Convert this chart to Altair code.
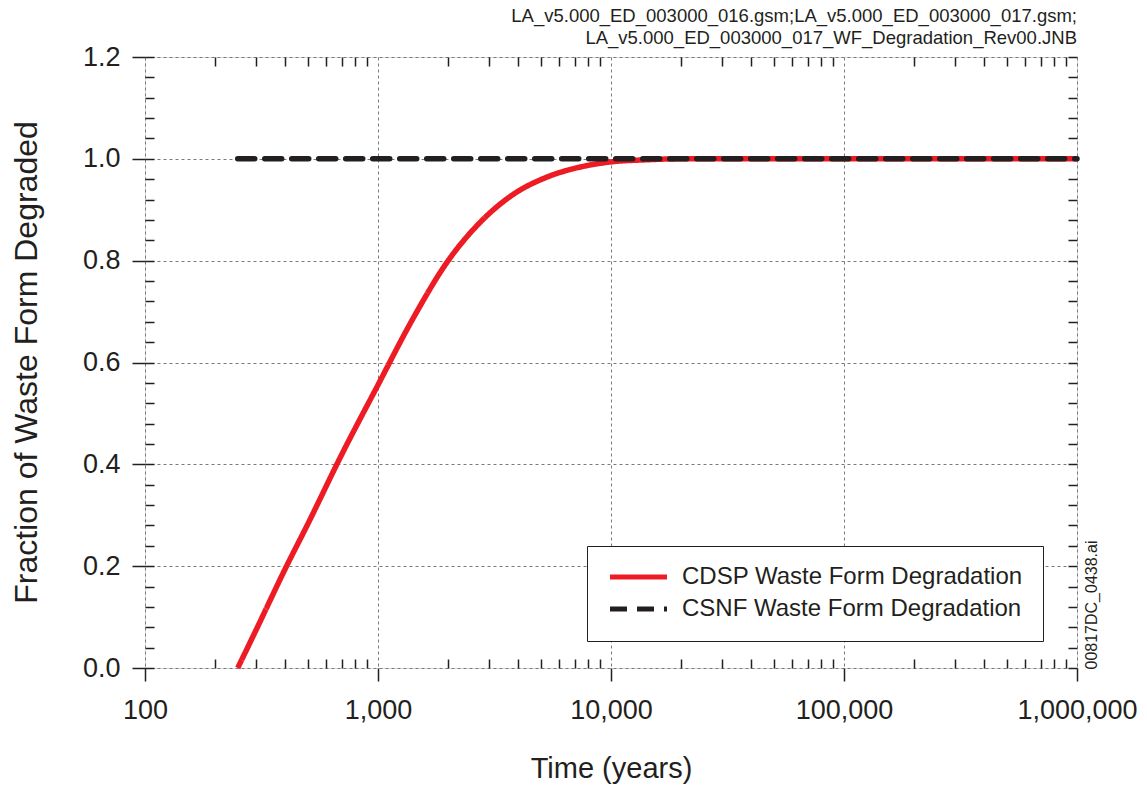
import altair as alt
import pandas as pd

# CDSP waste form degradation curve (fraction degraded vs. time in years)
cdsp_time = [250, 300, 400, 500, 700, 1000, 1400, 2000, 2700, 3800, 5300,
             7400, 10000, 14000, 20000, 1000000]
cdsp_frac = [0.0, 0.075, 0.195, 0.283, 0.42, 0.556, 0.683, 0.80, 0.872,
             0.930, 0.964, 0.984, 0.994, 0.998, 1.0, 1.0]

# CSNF waste form degradation: complete from the start
csnf_time = [250, 1000000]
csnf_frac = [1.0, 1.0]

series_names = ["CDSP Waste Form Degradation", "CSNF Waste Form Degradation"]
series_colors = ["#ed1c24", "#231f20"]

x_major = [100, 1000, 10000, 100000, 1000000]
x_minor = [m * d for d in [100, 1000, 10000, 100000] for m in range(2, 10)]
y_major = [0.0, 0.2, 0.4, 0.6, 0.8, 1.0, 1.2]
y_minor = [round(i * 0.04, 2) for i in range(31)]

header_lines = ["LA_v5.000_ED_003000_016.gsm;LA_v5.000_ED_003000_017.gsm;",
                "LA_v5.000_ED_003000_017_WF_Degradation_Rev00.JNB"]
file_tag = "00817DC_0438.ai"

FONT = "Liberation Sans"
INK = "#231f20"

df = pd.concat([
    pd.DataFrame({"t": cdsp_time, "f": cdsp_frac, "series": series_names[0]}),
    pd.DataFrame({"t": csnf_time, "f": csnf_frac, "series": series_names[1]}),
])

xscale = alt.Scale(type="log", domain=[100, 1000000], nice=False)
yscale = alt.Scale(domain=[0, 1.2], nice=False, zero=False)

color = alt.Color(
    "series:N",
    scale=alt.Scale(domain=series_names, range=series_colors),
    legend=alt.Legend(
        title=None, orient="none", legendX=442, legendY=489,
        symbolType="stroke", symbolStrokeWidth=5, symbolSize=3250,
        clipHeight=22, labelFont=FONT, labelFontSize=24, labelColor=INK,
        labelOffset=12, rowPadding=8, padding=20, strokeColor=INK,
        fillColor="white", labelLimit=600,
    ),
)
dash = alt.StrokeDash(
    "series:N",
    scale=alt.Scale(domain=series_names, range=[[1, 0], [17, 10]]),
    legend=None,
)

base = alt.Chart(df)

# major axes with labels and grid
red = base.transform_filter(alt.datum.series == series_names[0]).mark_line(
    strokeWidth=5.5, interpolate="monotone"
).encode(
    x=alt.X("t:Q", scale=xscale, axis=alt.Axis(
        values=x_major, format=",", labelFont=FONT, labelFontSize=27,
        labelColor=INK, labelFlush=False, tickSize=13, tickColor=INK,
        tickWidth=1.5, labelPadding=16, domain=False, grid=True,
        gridDash=[3, 3], gridColor="#7a7a7a", gridWidth=1,
        title="Time (years)", titleFont=FONT, titleFontSize=29,
        titleFontWeight="normal", titleColor=INK, titleY=100,
        titleBaseline="middle")),
    y=alt.Y("f:Q", scale=yscale, axis=alt.Axis(
        values=y_major, format=".1f", labelFont=FONT, labelFontSize=27,
        labelColor=INK, labelFlush=False, tickSize=13, tickColor=INK,
        tickWidth=1.5, labelPadding=12, domain=False, grid=True,
        gridDash=[3, 3], gridColor="#7a7a7a", gridWidth=1,
        title="Fraction of Waste Form Degraded", titleFont=FONT,
        titleFontSize=32, titleFontWeight="normal", titleColor=INK,
        titleX=-119, titleY=305, titleBaseline="middle")),
    color=color,
    strokeDash=dash,
)

# inner minor ticks on bottom and left
black = base.transform_filter(alt.datum.series == series_names[1]).mark_line(
    strokeWidth=5.5, strokeCap="round"
).encode(
    x=alt.X("t:Q", scale=xscale, axis=alt.Axis(
        values=x_minor, labels=False, tickSize=9, tickColor=INK,
        tickWidth=1.5, offset=-9, domain=False, grid=False, title=None)),
    y=alt.Y("f:Q", scale=yscale, axis=alt.Axis(
        values=y_minor, labels=False, tickSize=9, tickColor=INK,
        tickWidth=1.5, offset=-9, domain=False, grid=False, title=None)),
    color=color,
    strokeDash=dash,
)

# inner ticks on top and right edges, plus the file tag
frame = base.transform_filter(alt.datum.series == series_names[1]).mark_line(
    opacity=0
).encode(
    x=alt.X("t:Q", scale=xscale, axis=alt.Axis(
        orient="top", values=x_minor, labels=False, tickSize=9,
        tickColor=INK, tickWidth=1.5, offset=-9, domain=False, grid=False,
        title=None)),
    y=alt.Y("f:Q", scale=yscale, axis=alt.Axis(
        orient="right", values=y_minor, labels=False, tickSize=9,
        tickColor=INK, tickWidth=1.5, offset=-9, domain=False, grid=False,
        title=file_tag, titleFont=FONT, titleFontSize=16,
        titleFontWeight="normal", titleColor=INK, titleAngle=270,
        titleX=23, titleY=612, titleAlign="left", titleBaseline="middle")),
)

chart = alt.layer(frame, red, black).resolve_axis(
    x="independent", y="independent"
).properties(
    width=932,
    height=611,
    padding={"left": 145, "top": 57, "right": 70, "bottom": 121},
    autosize=alt.AutoSizeParams(type="none"),
    title=alt.TitleParams(
        text=header_lines, anchor="end", align="right", font=FONT,
        fontSize=18.5, fontWeight="normal", color=INK, lineHeight=22,
        offset=-4, frame="group"),
).configure_view(
    stroke=INK, strokeWidth=2
).configure(background="white")

chart.save("out.html", embed_options={"renderer": "svg", "actions": False})
